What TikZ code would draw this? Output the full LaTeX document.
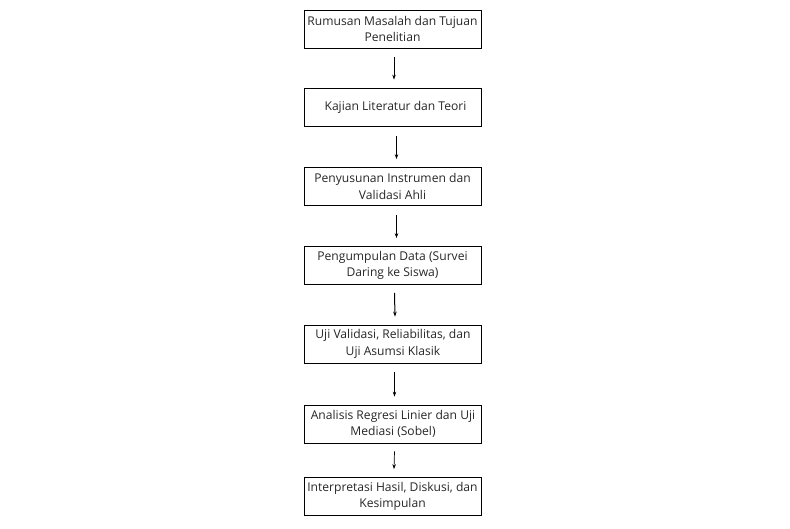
\documentclass[tikz,border=0pt]{standalone}
\usepackage{fontspec}
\setmainfont{Open Sans}
\usetikzlibrary{arrows.meta}
\begin{document}
\begin{tikzpicture}[x=1pt,y=-1pt,
  stepbox/.style={draw=black, line width=0.8pt, minimum width=177pt, minimum height=38pt, inner sep=0pt, align=center, font=\fontsize{12.1}{16.3}\selectfont, text=black!85},
  flow/.style={-{Stealth[length=5pt,width=3.5pt]}, line width=0.7pt}]
\useasboundingbox (0,0) rectangle (790,529);
\node[stepbox] (b1) at (392.5,29) {Rumusan Masalah dan Tujuan\\Penelitian};
\node[stepbox] (b2) at (392.5,107) {\hspace{6pt}Kajian Literatur dan Teori};
\node[stepbox] (b3) at (392.5,186.5) {Penyusunan Instrumen dan\\Validasi Ahli};
\node[stepbox] (b4) at (392.5,265.5) {Pengumpulan Data (Survei\\Daring ke Siswa)};
\node[stepbox] (b5) at (393,344) {Uji Validasi, Reliabilitas, dan\\Uji Asumsi Klasik};
\node[stepbox] (b6) at (393,424) {Analisis Regresi Linier dan Uji\\Mediasi (Sobel)};
\node[stepbox] (b7) at (392.5,496.5) {Interpretasi Hasil, Diskusi, dan\\Kesimpulan};
\draw[flow] ([xshift=1.5pt,yshift=-9pt]b1.south) -- ([xshift=1.5pt,yshift=8pt]b2.north);
\draw[flow] ([xshift=4pt,yshift=-10pt]b2.south) -- ([xshift=4pt,yshift=8pt]b3.north);
\draw[flow] ([xshift=4pt,yshift=-9pt]b3.south) -- ([xshift=4pt,yshift=8pt]b4.north);
\draw[flow, line width=1pt] ([xshift=2pt,yshift=-8pt]b4.south) -- ([xshift=2pt,yshift=8pt]b5.north);
\draw[flow] ([xshift=1.5pt,yshift=-9pt]b5.south) -- ([xshift=1.5pt,yshift=8pt]b6.north);
\draw[flow] ([xshift=1.5pt,yshift=-8pt]b6.south) -- ([xshift=1.5pt,yshift=8pt]b7.north);
\end{tikzpicture}
\end{document}
